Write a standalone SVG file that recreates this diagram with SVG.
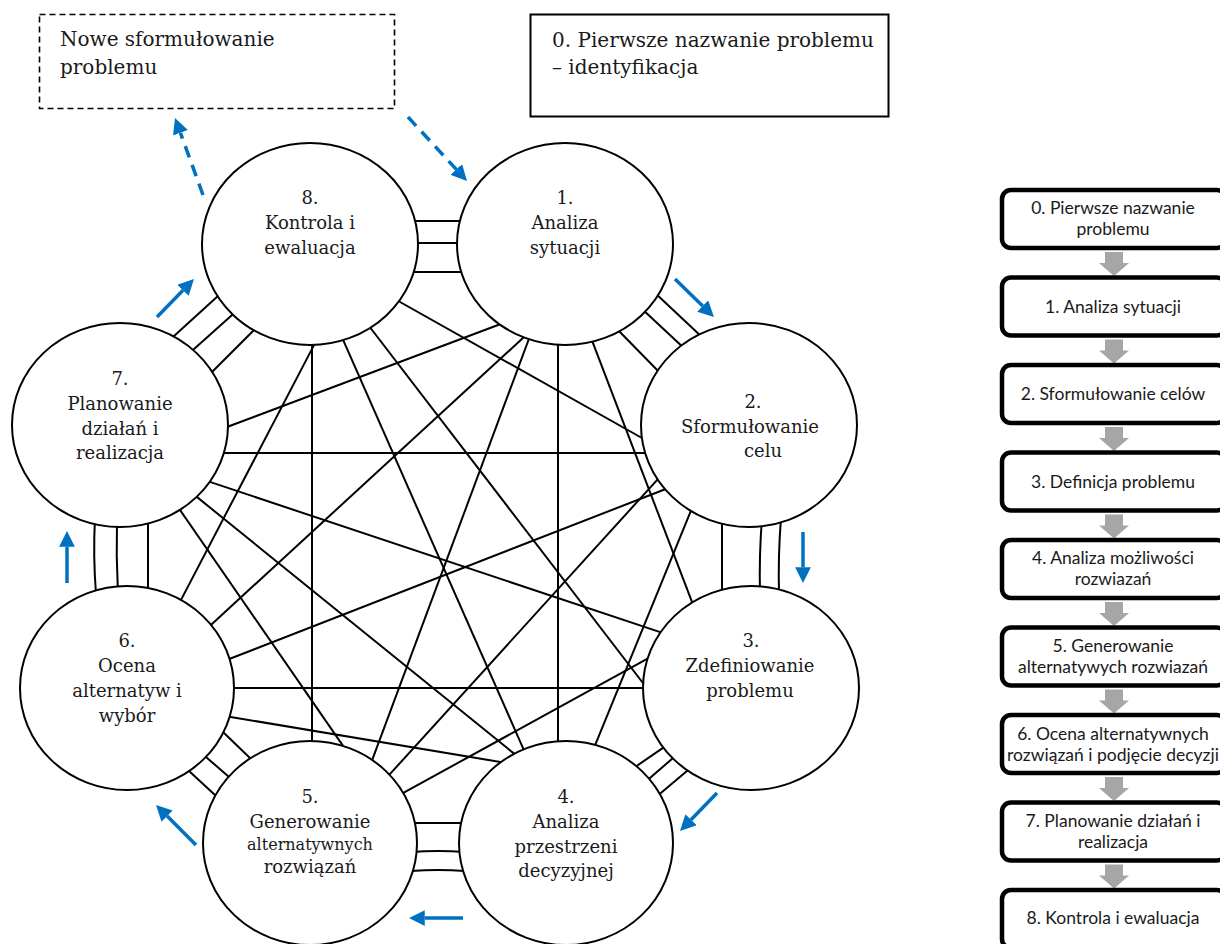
<svg xmlns="http://www.w3.org/2000/svg" width="1220" height="944" viewBox="0 0 1220 944">
<style>
.bg{fill:#fff}
.ln{stroke:#000;stroke-width:2;fill:none;stroke-linecap:butt}
.circ{fill:#fff;stroke:#000;stroke-width:2}
.ct{font-family:"DejaVu Serif","Liberation Serif",serif;font-size:18px;fill:#1a1a1a;text-anchor:middle}
.ct16{font-size:16px}
.bt{font-family:"DejaVu Serif","Liberation Serif",serif;font-size:20px;fill:#1a1a1a}
.ba{stroke:#0070C0;stroke-width:3.5;fill:none}
.dash{stroke-dasharray:12,8}
.fb{fill:#fff;stroke:#000;stroke-width:4.5}
.ft{font-family:Lato,"Open Sans",sans-serif;font-size:17.5px;fill:#1a1a1a;text-anchor:middle}
.ga{fill:#A6A6A6}
</style>
<defs>
<marker id="ah" viewBox="0 0 10 10" refX="0" refY="5" markerWidth="4.5" markerHeight="4.5" orient="auto" markerUnits="strokeWidth">
<path d="M0,0 L10,5 L0,10 z" fill="#0070C0"/>
</marker>
</defs>
<rect class="bg" x="0" y="0" width="1220" height="944"/>

<g id="connectors">
<!-- ring triple links -->
<line class="ln" x1="410" y1="221" x2="463" y2="221"/>
<line class="ln" x1="410" y1="243" x2="463" y2="243"/>
<line class="ln" x1="410" y1="272" x2="463" y2="272"/>
<line class="ln" x1="654" y1="292" x2="703" y2="338"/>
<line class="ln" x1="641" y1="308" x2="686" y2="350"/>
<line class="ln" x1="616" y1="328" x2="662" y2="375"/>
<line class="ln" x1="722" y1="518" x2="722" y2="594"/>
<path class="ln" d="M762,518 Q759,556 760,594"/>
<path class="ln" d="M781,518 Q778,556 779,594"/>
<line class="ln" x1="667" y1="745.2" x2="633.9" y2="767.8"/>
<line class="ln" x1="676.8" y1="754.7" x2="646.2" y2="781.3"/>
<line class="ln" x1="690.8" y1="767.8" x2="658.2" y2="795.2"/>
<line class="ln" x1="411" y1="823" x2="465" y2="823"/>
<path class="ln" d="M411,852 Q438,850 465,852"/>
<path class="ln" d="M411,871 Q438,869 465,871"/>
<line class="ln" x1="186.3" y1="768.6" x2="217.7" y2="797.4"/>
<line class="ln" x1="202.2" y1="753.7" x2="232.8" y2="780.3"/>
<line class="ln" x1="220.4" y1="729.5" x2="253.6" y2="761.5"/>
<path class="ln" d="M95,518 Q93,556 96,594"/>
<path class="ln" d="M117,518 Q116,556 118,594"/>
<line class="ln" x1="148" y1="518" x2="148" y2="594"/>
<line class="ln" x1="171.3" y1="338.4" x2="220.7" y2="293.6"/>
<line class="ln" x1="189.3" y1="353.3" x2="235.7" y2="311.7"/>
<line class="ln" x1="208.5" y1="375.5" x2="255.5" y2="328.5"/>
<!-- single links -->
<line class="ln" x1="502.7" y1="323.2" x2="222.3" y2="428.8"/>
<line class="ln" x1="526.7" y1="334.6" x2="209.3" y2="626.4"/>
<line class="ln" x1="530" y1="336" x2="371.2" y2="762.7"/>
<line class="ln" x1="558" y1="338" x2="558" y2="748"/>
<line class="ln" x1="591.2" y1="338.3" x2="693.8" y2="606.7"/>
<line class="ln" x1="395.6" y1="299.5" x2="646.4" y2="440.5"/>
<line class="ln" x1="369" y1="326" x2="646" y2="687"/>
<line class="ln" x1="342" y1="337.4" x2="525" y2="752.6"/>
<line class="ln" x1="312" y1="340" x2="312" y2="748"/>
<line class="ln" x1="179.7" y1="602.4" x2="315.3" y2="342.6"/>
<line class="ln" x1="222" y1="453" x2="646" y2="453"/>
<line class="ln" x1="667.7" y1="488.2" x2="227.3" y2="659.8"/>
<line class="ln" x1="660.4" y1="476.3" x2="387.6" y2="776.7"/>
<line class="ln" x1="691.9" y1="508.4" x2="594.1" y2="747.6"/>
<line class="ln" x1="664.7" y1="633.6" x2="205.3" y2="480.4"/>
<line class="ln" x1="230" y1="688" x2="646" y2="688"/>
<line class="ln" x1="649.4" y1="657.6" x2="400.6" y2="794.4"/>
<line class="ln" x1="504.9" y1="762.8" x2="226.1" y2="716.2"/>
<line class="ln" x1="515.9" y1="755.1" x2="193.1" y2="493.9"/>
<line class="ln" x1="345.8" y1="749.9" x2="177.2" y2="505.9"/>
</g>

<g id="flow-arrows">
<line class="ba dash" x1="408" y1="117" x2="456.3" y2="169.4" marker-end="url(#ah)"/>
<line class="ba dash" x1="203" y1="195" x2="180.4" y2="132.8" marker-end="url(#ah)"/>
<line class="ba" x1="675" y1="279" x2="702.7" y2="306" marker-end="url(#ah)"/>
<line class="ba" x1="803" y1="532" x2="803" y2="567.3" marker-end="url(#ah)"/>
<line class="ba" x1="717" y1="793" x2="691" y2="819.7" marker-end="url(#ah)"/>
<line class="ba" x1="463" y1="918" x2="424.75" y2="918" marker-end="url(#ah)"/>
<line class="ba" x1="196" y1="845" x2="167.1" y2="816.1" marker-end="url(#ah)"/>
<line class="ba" x1="67" y1="583" x2="67" y2="546.75" marker-end="url(#ah)"/>
<line class="ba" x1="157" y1="317" x2="183" y2="290.3" marker-end="url(#ah)"/>
</g>

<g id="box-new">
<rect x="39.5" y="14.5" width="355" height="94" fill="#fff" stroke="#000" stroke-width="1.6" stroke-dasharray="6,4"/>
<text class="bt" x="60" y="46">Nowe sformułowanie</text>
<text class="bt" x="60" y="74">problemu</text>
</g>
<g id="box-0">
<rect x="530.5" y="14.5" width="358" height="102" fill="#fff" stroke="#000" stroke-width="2"/>
<text class="bt" x="552" y="47">0. Pierwsze nazwanie problemu</text>
<text class="bt" x="552" y="74">– identyfikacja</text>
</g>

<g id="node-8"><ellipse class="circ" cx="310" cy="244" rx="108" ry="101"/>
<text class="ct" x="310" y="204">8.</text><text class="ct" x="310" y="229">Kontrola i</text><text class="ct" x="310" y="254">ewaluacja</text></g>
<g id="node-1"><ellipse class="circ" cx="565" cy="244" rx="108" ry="101"/>
<text class="ct" x="565" y="204">1.</text><text class="ct" x="565" y="229">Analiza</text><text class="ct" x="565" y="254">sytuacji</text></g>
<g id="node-2"><ellipse class="circ" cx="749" cy="425" rx="108" ry="102"/>
<text class="ct" x="753" y="408">2.</text><text class="ct" x="750" y="433">Sformułowanie</text><text class="ct" x="763" y="457">celu</text></g>
<g id="node-3"><ellipse class="circ" cx="751" cy="688" rx="108" ry="102"/>
<text class="ct" x="751" y="647">3.</text><text class="ct" x="750" y="672">Zdefiniowanie</text><text class="ct" x="750" y="697">problemu</text></g>
<g id="node-4"><ellipse class="circ" cx="566" cy="843" rx="107" ry="102"/>
<text class="ct" x="566" y="803">4.</text><text class="ct" x="566" y="828">Analiza</text><text class="ct" x="566" y="853">przestrzeni</text><text class="ct" x="566" y="877">decyzyjnej</text></g>
<g id="node-5"><ellipse class="circ" cx="310" cy="843" rx="107" ry="102"/>
<text class="ct" x="310" y="803">5.</text><text class="ct" x="310" y="828">Generowanie</text><text class="ct ct16" x="310" y="850">alternatywnych</text><text class="ct" x="310" y="873">rozwiązań</text></g>
<g id="node-6"><ellipse class="circ" cx="127" cy="688" rx="107" ry="102"/>
<text class="ct" x="127" y="647">6.</text><text class="ct" x="127" y="672">Ocena</text><text class="ct" x="127" y="697">alternatyw i</text><text class="ct" x="127" y="722">wybór</text></g>
<g id="node-7"><ellipse class="circ" cx="120" cy="425" rx="108" ry="102"/>
<text class="ct" x="120" y="385">7.</text><text class="ct" x="120" y="410">Planowanie</text><text class="ct" x="120" y="435">działań i</text><text class="ct" x="120" y="459">realizacja</text></g>

<g id="flowchart-arrows">
<polygon class="ga" points="1105,252 1123,252 1123,263 1129,263 1114,276 1099,263 1105,263"/>
<polygon class="ga" points="1105,339.5 1123,339.5 1123,350.5 1129,350.5 1114,363.5 1099,350.5 1105,350.5"/>
<polygon class="ga" points="1105,427 1123,427 1123,438 1129,438 1114,451 1099,438 1105,438"/>
<polygon class="ga" points="1105,514.5 1123,514.5 1123,525.5 1129,525.5 1114,538.5 1099,525.5 1105,525.5"/>
<polygon class="ga" points="1105,602 1123,602 1123,613 1129,613 1114,626 1099,613 1105,613"/>
<polygon class="ga" points="1105,689.5 1123,689.5 1123,700.5 1129,700.5 1114,713.5 1099,700.5 1105,700.5"/>
<polygon class="ga" points="1105,777 1123,777 1123,788 1129,788 1114,801 1099,788 1105,788"/>
<polygon class="ga" points="1105,864.5 1123,864.5 1123,875.5 1129,875.5 1114,888.5 1099,875.5 1105,875.5"/>
</g>

<g id="step-0"><rect class="fb" x="1002" y="190" width="224" height="58" rx="9"/>
<text class="ft" x="1113" y="214">0. Pierwsze nazwanie</text><text class="ft" x="1113" y="235">problemu</text></g>
<g id="step-1"><rect class="fb" x="1002" y="277.5" width="224" height="58" rx="9"/>
<text class="ft" x="1113" y="313">1. Analiza sytuacji</text></g>
<g id="step-2"><rect class="fb" x="1002" y="365" width="224" height="58" rx="9"/>
<text class="ft" x="1113" y="400">2. Sformułowanie celów</text></g>
<g id="step-3"><rect class="fb" x="1002" y="452.5" width="224" height="58" rx="9"/>
<text class="ft" x="1113" y="488">3. Definicja problemu</text></g>
<g id="step-4"><rect class="fb" x="1002" y="540" width="224" height="58" rx="9"/>
<text class="ft" x="1113" y="564">4. Analiza możliwości</text><text class="ft" x="1113" y="585">rozwiazań</text></g>
<g id="step-5"><rect class="fb" x="1002" y="627.5" width="224" height="58" rx="9"/>
<text class="ft" x="1113" y="652">5. Generowanie</text><text class="ft" x="1113" y="673">alternatywych rozwiazań</text></g>
<g id="step-6"><rect class="fb" x="1002" y="715" width="224" height="58" rx="9"/>
<text class="ft" x="1113" y="740">6. Ocena alternatywnych</text><text class="ft" x="1113" y="761">rozwiązań i podjęcie decyzji</text></g>
<g id="step-7"><rect class="fb" x="1002" y="802.5" width="224" height="58" rx="9"/>
<text class="ft" x="1113" y="827">7. Planowanie działań i</text><text class="ft" x="1113" y="848">realizacja</text></g>
<g id="step-8"><rect class="fb" x="1002" y="890" width="224" height="58" rx="9"/>
<text class="ft" x="1113" y="924">8. Kontrola i ewaluacja</text></g>
</svg>
